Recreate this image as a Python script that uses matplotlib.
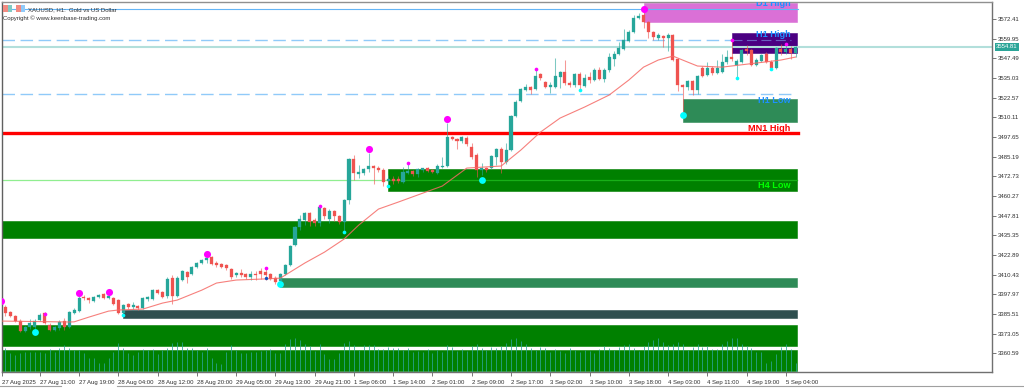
import numpy as np
from matplotlib import pyplot as plt
from matplotlib.patches import Rectangle
from matplotlib.lines import Line2D

# XAUUSD H1 candles
opens = [3390.5, 3389.9, 3386.7, 3384.2, 3381.0, 3374.6, 3377.2, 3377.2, 3381.6, 3386.1,
         3378.5, 3375.3, 3376.5, 3381.0, 3377.2, 3386.1, 3387.3, 3396.2, 3395.6, 3393.7,
         3396.2, 3398.1, 3395.6, 3395.6, 3394.3, 3386.1, 3391.8, 3389.9, 3390.5, 3389.2,
         3394.9, 3394.9, 3400.6, 3399.4, 3396.8, 3408.2, 3396.8, 3407.0, 3412.1, 3410.8,
         3415.2, 3417.8, 3419.7, 3421.6, 3417.8, 3417.1, 3416.5, 3414.0, 3410.2, 3411.4,
         3410.8, 3408.9, 3410.8, 3412.7, 3412.1, 3410.8, 3408.2, 3406.4, 3410.8, 3416.5,
         3429.1, 3440.6, 3445.0, 3449.5, 3445.0, 3443.1, 3452.6, 3445.6, 3450.7, 3447.6,
         3443.8, 3457.7, 3483.7, 3474.2, 3474.8, 3477.4, 3479.3, 3478.0, 3476.7, 3469.7,
         3471.0, 3471.0, 3469.1, 3474.8, 3476.1, 3474.2, 3476.7, 3478.0, 3476.7, 3474.8,
         3478.6, 3479.3, 3497.6, 3496.4, 3495.1, 3497.0, 3491.3, 3486.2, 3476.7, 3478.0,
         3478.0, 3485.0, 3490.0, 3481.8, 3489.4, 3511.0, 3520.5, 3527.4, 3529.3, 3528.1,
         3537.6, 3532.5, 3529.3, 3529.3, 3535.7, 3538.9, 3531.9, 3530.6, 3537.6, 3530.0,
         3535.7, 3533.8, 3540.1, 3534.4, 3540.1, 3547.1, 3550.3, 3553.4, 3558.5, 3564.2,
         3573.1, 3575.0, 3570.5, 3564.2, 3560.4, 3561.7, 3560.4, 3562.3, 3547.1, 3530.6,
         3529.3, 3533.1, 3527.4, 3541.4, 3536.9, 3541.4, 3538.2, 3538.9, 3545.2, 3548.4,
         3543.3, 3545.2, 3553.4, 3552.8, 3543.3, 3545.8, 3550.3, 3545.2, 3541.4, 3553.4,
         3551.5, 3553.4, 3550.9]
highs = [3394.3, 3391.1, 3387.3, 3384.8, 3382.3, 3377.8, 3382.3, 3382.3, 3386.1, 3386.7,
         3379.7, 3377.8, 3381.6, 3382.9, 3387.3, 3389.2, 3396.8, 3397.5, 3396.2, 3396.8,
         3398.1, 3398.7, 3398.7, 3396.2, 3394.9, 3391.8, 3392.4, 3393.0, 3391.1, 3396.2,
         3396.8, 3401.3, 3401.3, 3400.0, 3408.9, 3410.2, 3409.5, 3413.3, 3412.7, 3415.9,
         3418.4, 3420.3, 3423.5, 3422.2, 3419.0, 3417.8, 3417.1, 3414.6, 3412.1, 3414.0,
         3411.4, 3412.7, 3412.7, 3414.6, 3415.2, 3411.4, 3409.5, 3411.4, 3417.1, 3429.1,
         3441.2, 3448.2, 3450.1, 3450.1, 3446.3, 3453.9, 3453.3, 3452.0, 3451.4, 3448.2,
         3458.3, 3484.3, 3486.2, 3479.9, 3478.0, 3487.5, 3479.9, 3479.3, 3478.0, 3473.5,
         3472.9, 3472.9, 3478.6, 3480.6, 3476.7, 3478.0, 3478.0, 3478.6, 3477.4, 3480.5,
         3484.9, 3506.5, 3498.3, 3497.0, 3498.3, 3498.3, 3493.8, 3487.5, 3481.2, 3478.6,
         3486.2, 3490.7, 3491.3, 3493.8, 3511.6, 3521.1, 3528.7, 3531.2, 3530.0, 3540.1,
         3538.2, 3533.1, 3532.5, 3547.7, 3539.5, 3546.5, 3533.1, 3538.2, 3538.9, 3537.6,
         3538.9, 3541.4, 3542.0, 3541.4, 3550.9, 3552.2, 3557.9, 3566.1, 3565.5, 3575.0,
         3576.3, 3578.8, 3571.2, 3564.8, 3563.6, 3562.3, 3563.6, 3562.9, 3547.7, 3531.2,
         3533.8, 3533.8, 3537.0, 3542.7, 3545.2, 3542.7, 3546.5, 3550.3, 3552.8, 3559.1,
         3547.1, 3553.4, 3556.0, 3553.4, 3547.7, 3550.3, 3551.5, 3546.5, 3554.7, 3556.6,
         3556.0, 3555.3, 3555.3]
lows = [3389.2, 3384.2, 3383.5, 3380.4, 3374.0, 3374.0, 3375.9, 3375.9, 3381.0, 3379.1,
        3374.6, 3374.6, 3375.3, 3375.3, 3376.5, 3385.4, 3386.7, 3394.3, 3392.4, 3393.0,
        3395.6, 3394.9, 3394.9, 3391.1, 3385.4, 3384.8, 3388.6, 3388.0, 3388.0, 3388.6,
        3393.7, 3394.3, 3398.1, 3395.6, 3395.6, 3391.8, 3396.2, 3406.4, 3405.1, 3410.2,
        3414.6, 3417.1, 3417.8, 3416.5, 3415.2, 3414.6, 3413.3, 3407.6, 3408.9, 3408.9,
        3407.6, 3407.0, 3407.0, 3407.6, 3407.0, 3407.0, 3404.5, 3405.7, 3410.2, 3415.9,
        3428.5, 3438.7, 3441.9, 3441.2, 3441.2, 3441.2, 3445.6, 3443.1, 3444.4, 3442.5,
        3437.4, 3455.2, 3470.4, 3471.6, 3473.5, 3475.5, 3467.8, 3475.5, 3466.6, 3467.8,
        3467.8, 3468.5, 3468.5, 3474.2, 3472.9, 3472.3, 3475.5, 3475.5, 3474.8, 3474.2,
        3478.0, 3478.6, 3495.7, 3490.0, 3493.8, 3491.9, 3483.7, 3472.3, 3473.5, 3475.5,
        3477.4, 3479.9, 3474.8, 3480.5, 3488.8, 3510.3, 3519.8, 3526.8, 3524.9, 3527.4,
        3533.8, 3528.7, 3525.5, 3528.7, 3528.7, 3530.6, 3529.3, 3529.3, 3527.4, 3529.3,
        3531.9, 3533.1, 3533.8, 3532.5, 3538.9, 3542.7, 3549.6, 3552.8, 3557.9, 3563.6,
        3572.5, 3566.8, 3560.4, 3559.1, 3559.1, 3554.7, 3552.2, 3545.8, 3526.8, 3512.9,
        3527.4, 3524.3, 3524.9, 3535.7, 3536.3, 3536.9, 3537.6, 3538.2, 3543.9, 3545.8,
        3535.1, 3544.6, 3549.6, 3542.7, 3542.7, 3545.2, 3544.6, 3540.8, 3540.8, 3549.6,
        3550.3, 3547.1, 3548.4]
closes = [3393.7, 3386.1, 3384.2, 3381.0, 3374.6, 3377.2, 3379.7, 3381.0, 3384.8, 3379.7,
          3375.3, 3377.2, 3380.4, 3377.2, 3386.7, 3388.0, 3395.6, 3395.6, 3394.3, 3396.2,
          3397.5, 3395.6, 3396.8, 3391.8, 3386.1, 3391.1, 3389.9, 3391.1, 3389.2, 3395.6,
          3396.2, 3400.6, 3398.7, 3396.2, 3407.6, 3396.8, 3408.2, 3412.7, 3408.9, 3415.2,
          3417.8, 3419.7, 3420.9, 3417.1, 3416.5, 3415.2, 3414.6, 3408.9, 3411.4, 3410.2,
          3408.9, 3410.8, 3410.2, 3410.8, 3410.2, 3407.6, 3405.7, 3410.8, 3416.5, 3428.5,
          3440.6, 3445.6, 3449.5, 3443.8, 3443.1, 3453.3, 3447.6, 3450.7, 3447.6, 3443.8,
          3457.7, 3483.7, 3474.8, 3475.5, 3477.4, 3479.3, 3478.0, 3476.7, 3469.1, 3471.0,
          3469.7, 3469.7, 3475.5, 3476.1, 3474.2, 3477.4, 3478.0, 3476.1, 3475.5, 3479.3,
          3479.3, 3497.6, 3496.4, 3495.1, 3497.6, 3493.2, 3485.0, 3476.7, 3478.0, 3476.7,
          3485.6, 3490.0, 3481.8, 3489.4, 3511.0, 3519.8, 3528.1, 3529.3, 3527.4, 3536.3,
          3535.0, 3529.3, 3530.6, 3536.3, 3538.9, 3531.9, 3530.6, 3537.6, 3530.6, 3535.0,
          3533.8, 3540.1, 3534.4, 3540.1, 3548.4, 3550.3, 3554.1, 3559.1, 3564.2, 3573.1,
          3574.4, 3570.5, 3564.2, 3561.0, 3562.3, 3560.4, 3562.3, 3546.5, 3530.6, 3529.3,
          3533.1, 3527.4, 3536.3, 3536.3, 3541.4, 3538.2, 3541.4, 3545.2, 3548.4, 3547.1,
          3545.8, 3552.8, 3552.2, 3543.3, 3546.5, 3549.6, 3545.2, 3541.4, 3554.1, 3551.5,
          3553.4, 3550.9, 3554.6]
# tick volume, in hundreds
volumes = [20, 24, 19, 17, 19, 20, 20, 20, 20, 19, 23, 20, 24, 27, 24, 22, 22, 19, 14, 14,
           9, 9, 14, 20, 29, 24, 19, 17, 20, 23, 22, 23, 18, 22, 24, 29, 30, 30, 24, 24,
           22, 20, 24, 14, 9, 8, 20, 27, 22, 19, 19, 20, 20, 21, 22, 23, 19, 19, 28, 33,
           34, 32, 28, 26, 21, 28, 18, 13, 13, 19, 29, 31, 27, 22, 27, 27, 27, 23, 23, 25,
           24, 24, 22, 24, 20, 21, 20, 23, 19, 22, 20, 27, 25, 21, 23, 21, 26, 28, 24, 22,
           25, 24, 26, 29, 33, 34, 31, 28, 24, 22, 25, 24, 20, 23, 21, 19, 24, 22, 20, 22,
           21, 19, 23, 26, 24, 22, 25, 27, 28, 24, 21, 26, 30, 32, 34, 30, 27, 28, 30, 28,
           22, 25, 28, 25, 26, 23, 23, 28, 31, 34, 34, 28, 26, 24, 20, 20, 9, 11, 18, 25,
           28, 23, 9]

ma_bars = [0, 14, 15, 18, 22, 24, 29, 33, 36, 41, 44, 48, 53, 57, 62, 66, 70, 73, 77, 81,
           90, 95, 102, 106, 110, 114, 119, 124, 128, 131, 134, 137, 140, 142, 147, 154,
           159, 162]
ma_values = [3381.0, 3380.4, 3380.5, 3383.5, 3387.3, 3388.0, 3388.6, 3392.4, 3394.3, 3400.6,
             3405.1, 3407.0, 3407.6, 3408.2, 3417.8, 3424.7, 3433.0, 3441.9, 3452.0, 3456.4,
             3466.6, 3478.0, 3479.3, 3489.4, 3500.8, 3509.7, 3516.7, 3524.3, 3533.8, 3542.0,
             3546.5, 3549.0, 3545.2, 3542.7, 3542.0, 3544.6, 3546.5, 3548.4]

# fractal markers
big_high_bars = [0, 16, 22, 42, 75, 91, 131]
big_high_prices = [3393.7, 3398.7, 3399.4, 3423.5, 3490.0, 3509.0, 3578.8]
small_high_bars = [9, 54, 65, 83, 109, 149, 160]
small_high_prices = [3385.4, 3414.6, 3453.9, 3481.2, 3540.7, 3559.1, 3556.6]
big_low_bars = [7, 57, 98, 139]
big_low_prices = [3374.0, 3404.5, 3470.4, 3511.6]
small_low_bars = [25, 70, 79, 118, 150, 157]
small_low_prices = [3384.8, 3437.4, 3466.6, 3527.4, 3535.1, 3540.8]
blue_bars = [54]
blue_prices = [3408.2]

# supply/demand zones
zone_start = [131, 149, 139, 79, 0, 57, 25, 0, 0]
zone_high = [3582.6, 3563.6, 3521.7, 3477.4, 3444.4, 3408.2, 3388.0, 3378.5, 3362.6]
zone_low = [3570.6, 3550.9, 3507.1, 3463.4, 3433.6, 3402.5, 3382.9, 3365.1, 3349.3]
zone_colors = ['#DA70D6', '#4B0082', '#2E8B57', '#008000', '#008000', '#2E8B57', '#2F4F4F',
               '#008000', '#008000']

level_names = ['D1 High', 'H1 High', 'H1 Low', 'MN1 High', 'H4 Low']
level_prices = [3582.6, 3562.5, 3521.0, 3503.3, 3467.0]
level_colors = ['#1E90FF', '#1E90FF', '#1E90FF', '#FF0000', '#00FF00']

price_ticks = [3572.41, 3559.95, 3547.49, 3535.03, 3522.57, 3510.11, 3497.65, 3485.19, 3472.73,
               3460.27, 3447.81, 3435.35, 3422.89, 3410.43, 3397.97, 3385.51, 3373.05, 3360.59]
time_labels = ['27 Aug 2025', '27 Aug 11:00', '27 Aug 19:00', '28 Aug 04:00', '28 Aug 12:00',
               '28 Aug 20:00', '29 Aug 05:00', '29 Aug 13:00', '29 Aug 21:00', '1 Sep 06:00',
               '1 Sep 14:00', '2 Sep 01:00', '2 Sep 09:00', '2 Sep 17:00', '3 Sep 02:00',
               '3 Sep 10:00', '3 Sep 18:00', '4 Sep 03:00', '4 Sep 11:00', '4 Sep 19:00',
               '5 Sep 04:00']
last_price = 3554.81

UP = '#26A69A'
DOWN = '#EF5350'
W, H = 1024, 388


def px_box(x0, y0, x1, y1):
    """Figure fractions [left, bottom, width, height] for a box given in image pixels."""
    return [x0 / W, 1 - y1 / H, (x1 - x0) / W, (y1 - y0) / H]


plt.rcParams['font.family'] = ['Liberation Sans', 'DejaVu Sans']

fig = plt.figure(figsize=(W / 100, H / 100), dpi=100, facecolor='white')
ax = fig.add_axes(px_box(1.5, 2, 992, 372))
ax.set_xlim(0.2, 202.0)
ax.set_ylim(3348.7, 3583.3)

bars = np.arange(len(opens))
o, h, l, c = map(np.array, (opens, highs, lows, closes))
colors = np.where(c >= o, UP, DOWN)

for start, top, low, color in zip(zone_start, zone_high, zone_low, zone_colors):
    ax.add_patch(Rectangle((start, low), 162.3 - start, top - low, facecolor=color,
                           edgecolor=color, linewidth=0.4, zorder=1))

# level lines
ax.plot([0.2, 162.5], [3578.8, 3578.8], color='#64B5F6', lw=0.8, zorder=2)
ax.plot([0.2, 149], [3559.1, 3559.1], color='#90CAF9', lw=1.0, dashes=(9, 4), zorder=2)
ax.plot([149, 161], [3559.1, 3559.1], color='#6A5FC0', lw=0.8, dashes=(9, 4), zorder=2)
ax.plot([0.2, 161], [3524.9, 3524.9], color='#90CAF9', lw=1.0, dashes=(9, 4), zorder=2)
ax.plot([0.2, 79], [3470.4, 3470.4], color='#90EE90', lw=0.9, zorder=2)
ax.plot([79, 162.3], [3470.4, 3470.4], color='#18B018', lw=0.9, zorder=2)
ax.plot([0.2, 162.5], [3500.1, 3500.1], color='#FF0000', lw=2.4, zorder=2)
ax.axhline(last_price, color='#B2DFDB', lw=1.5, zorder=2)

# candles
ax.vlines(bars, l, h, colors=colors, lw=0.75, alpha=0.6, zorder=3)
ax.bar(bars, c - o, bottom=o, width=0.62, color=colors, linewidth=0.2, edgecolor=colors, zorder=4)

ax.plot(ma_bars, ma_values, color='#F56A66', lw=0.8, alpha=0.85, zorder=5)

ax.scatter(big_high_bars, big_high_prices, s=26, color='#FF00FF', linewidths=0, zorder=6)
ax.scatter(small_high_bars, small_high_prices, s=7, color='#FF00FF', linewidths=0, zorder=6)
ax.scatter(big_low_bars, big_low_prices, s=24, color='#00FFFF', linewidths=0, zorder=6)
ax.scatter(small_low_bars, small_low_prices, s=7, color='#00FFFF', linewidths=0, zorder=6)
ax.scatter(blue_bars, blue_prices, s=6, color='#1050C0', linewidths=0, zorder=6)

for name, price, color in zip(level_names, level_prices, level_colors):
    ax.text(160.9, price, name, color=color, fontsize=6.6, fontweight='bold', ha='right',
            va='center', zorder=7, clip_on=True)

# tick volume, drawn on its own scale from the bottom of the window
vol_ax = ax.twinx()
vol_ax.set_ylim(0, 370)
vol_ax.axis('off')
vol_ax.vlines(bars, 0, volumes, colors='#2BA598', lw=0.7, alpha=0.8)

# twinx moves the price ticks back to the left, so set them up afterwards
ax.set_yticks(price_ticks)
ax.set_yticklabels([f'{p:.2f}' for p in price_ticks])
ax.yaxis.tick_right()
time_ticks = [0.2] + list(range(8, 161, 8))
ax.set_xticks(time_ticks)
ax.set_xticklabels(time_labels, ha='left')
ax.tick_params(axis='both', length=3, width=0.6, color='#606060', labelsize=4.3,
               labelcolor='#303030')
ax.tick_params(axis='y', pad=1.2)
ax.tick_params(axis='x', pad=2.6)
for spine in ax.spines.values():
    spine.set_color('#707070')
    spine.set_linewidth(1.0)
ax.spines['top'].set_color('#909090')
ax.spines['left'].set_color('#606060')

# last price tag
fig.text(996 / W, 1 - 47 / H, f'{last_price:.2f}', color='white', fontsize=4.3, va='center',
         bbox=dict(boxstyle='square,pad=0.25', facecolor='#2BA598', edgecolor='none'), zorder=8)

# chart header
fig.text(28 / W, 1 - 9.3 / H, 'XAUUSD, H1:  Gold vs US Dollar', color='#303030', fontsize=4.3,
         va='center')
fig.text(3 / W, 1 - 18.5 / H, 'Copyright \u00a9 www.keenbase-trading.com', color='#303030',
         fontsize=4.3, va='center')
for x0, col in [(3, '#F28B82'), (7.5, '#80CBC4'), (16, '#F28B82'), (20.5, '#90CAF9')]:
    fig.patches.append(Rectangle((x0 / W, 1 - 12 / H), 4.5 / W, 7 / H, transform=fig.transFigure,
                                 facecolor=col, edgecolor='none'))

# tab strip under the chart
fig.add_artist(Line2D([0, 61 / W], [1 - 386 / H] * 2, color='#A0A0A0', lw=0.8))
fig.add_artist(Line2D([117 / W, 1], [1 - 386 / H] * 2, color='#A0A0A0', lw=0.8))

fig.savefig('out.png', dpi=100)
